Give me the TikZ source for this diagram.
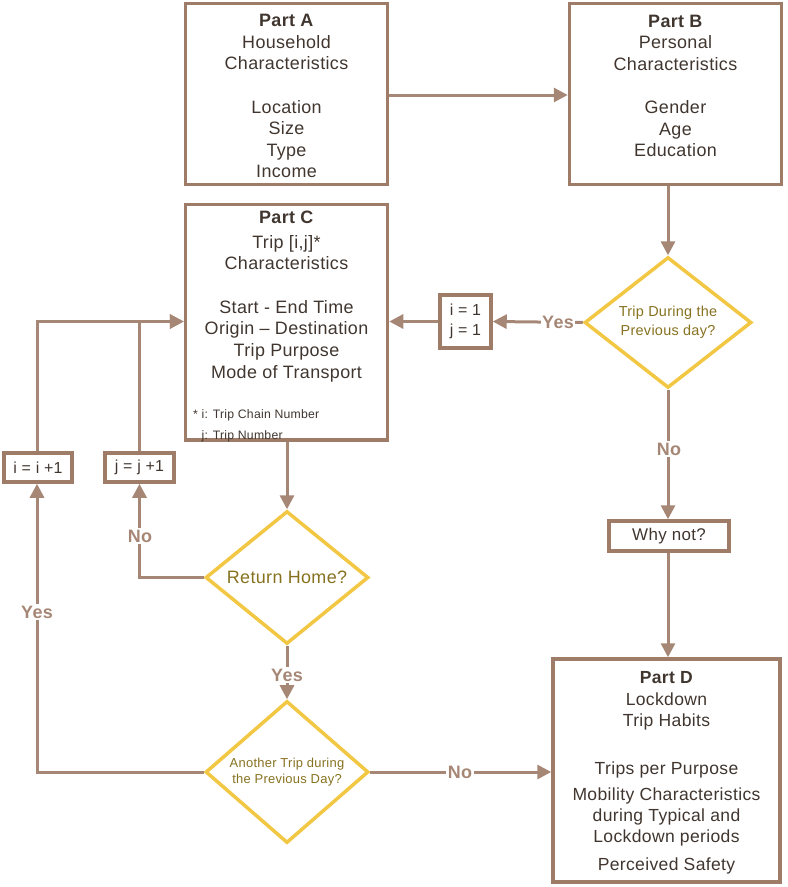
\documentclass[tikz,border=0pt]{standalone}
\usepackage{fontspec}
\setmainfont[LetterSpace=2]{Liberation Sans}
\usetikzlibrary{shapes.geometric,arrows.meta}
\definecolor{brd}{HTML}{9E7C68}
\definecolor{lnc}{HTML}{A68776}
\definecolor{txt}{HTML}{40362F}
\definecolor{dtx}{HTML}{86711F}
\definecolor{ylw}{HTML}{F2C744}
\tikzset{
  box/.style={draw=brd, line width=3.5bp, rectangle, inner sep=0pt},
  dia/.style={draw=ylw, line width=3.5bp, diamond, inner sep=0pt, align=center, text=dtx},
  body/.style={anchor=north, inner sep=0pt, align=center, text=txt, font=\fontsize{18}{21.7}\selectfont},
  conn/.style={draw=lnc, line width=3bp, -{Triangle[length=14bp,width=14bp]}},
  lab/.style={fill=white, inner sep=1.5pt, text=lnc, font=\fontsize{18}{20}\selectfont\bfseries},
}
\begin{document}
\begin{tikzpicture}[x=1bp,y=-1bp]
\useasboundingbox (0,0) rectangle (788,887);
% boxes
\node[box, minimum width=202bp, minimum height=181bp] (A) at (286.5,94) {};
\node[box, minimum width=212bp, minimum height=181bp] (B) at (675.5,94) {};
\node[box, minimum width=202bp, minimum height=235.5bp] (C) at (286.5,322.2) {};
\node[box, minimum width=51bp, minimum height=53bp, align=center, text=txt, font=\fontsize{16}{20}\selectfont] (ij) at (465.5,321.5) {i = 1\\ j = 1};
\node[box, minimum width=120bp, minimum height=30bp, text=txt, font=\fontsize{17}{20}\selectfont] (W) at (669,536) {Why not?};
\node[box, minimum width=227bp, minimum height=223bp] (D) at (666.5,770.5) {};
\node[box, minimum width=69bp, minimum height=29bp, text=txt, font=\fontsize{16}{20}\selectfont] (jb) at (139.5,467.5) {j = j +1};
\node[box, minimum width=68bp, minimum height=29bp, text=txt, font=\fontsize{16}{20}\selectfont] (ib) at (38,467.5) {i = i +1};
% diamonds
\node[dia, minimum width=167bp, minimum height=115bp, font=\fontsize{14.5}{19}\selectfont] (D1) at (668,322.5) {Trip During the\\ Previous day?};
\node[dia, minimum width=163bp, minimum height=115bp, font=\fontsize{18}{20}\selectfont] (D2) at (287,577.5) {Return Home?};
\node[dia, minimum width=163bp, minimum height=114bp, font=\fontsize{13}{15.5}\selectfont] (D3) at (287,772) {Another Trip during\\ the Previous Day?};
% box texts
\node[body] (tA) at (286.5,14) {\textbf{Part A}\\ Household\\ Characteristics\\ \\ Location\\ Size\\ Type\\ Income};
\node[body] (tB) at (675.5,14.5) {\textbf{Part B}\\ Personal\\ Characteristics\\ \\ Gender\\ Age\\ Education};
\node[body] (tC) at (286.5,211) {\textbf{Part C}\\[3pt] Trip [i,j]*\\ Characteristics\\ \\ Start - End Time\\ Origin – Destination\\ Trip Purpose\\ Mode of Transport};
\node[anchor=north west, inner sep=0pt, align=left, text=txt, font=\fontsize{12.3}{21.5}\selectfont] (fn) at (193,409) {* i: Trip Chain Number\\ \phantom{* }j: Trip Number};
\node[body, font=\fontsize{17.6}{21.5}\selectfont] (tD) at (666.5,671.5) {\textbf{Part D}\\ Lockdown\\ Trip Habits\\ \\[5pt] Trips per Purpose\\[5pt] Mobility Characteristics\\[-1pt] during Typical and\\ Lockdown periods\\[6pt] Perceived Safety};
% connectors
\draw[conn] (A.east |- 0,95) -- (B.west |- 0,95);
\draw[conn] (B.south -| D1.north) -- (D1.north);
\draw[conn] (D1.west) -- (ij.east);
\draw[conn] (ij.west) -- (C.east |- ij.west);
\draw[conn] (D1.south) -- (W.north -| D1.south);
\draw[conn] (W.south -| D1.south) -- (D.north -| D1.south);
\draw[conn] (C.south -| D2.north) -- (D2.north);
\draw[conn] (D2.west) -| (jb.south);
\draw[conn] (jb.north) |- (C.west |- ij.west);
\draw[conn] (ib.north -| 37,0) |- (C.west |- ij.west);
\draw[conn] (D2.south) -- (D3.north);
\draw[conn] (D3.west) -| (ib.south -| 37,0);
\draw[conn] (D3.east) -- (D3.east -| D.west);
% labels
\node[lab] (y1) at (558,322) {Yes};
\node[lab] (n1) at (669,449) {No};
\node[lab] (n2) at (140,536) {No};
\node[lab] (y2) at (287,675) {Yes};
\node[lab] (y3) at (37,612) {Yes};
\node[lab] (n3) at (460,772) {No};
\end{tikzpicture}
\end{document}
